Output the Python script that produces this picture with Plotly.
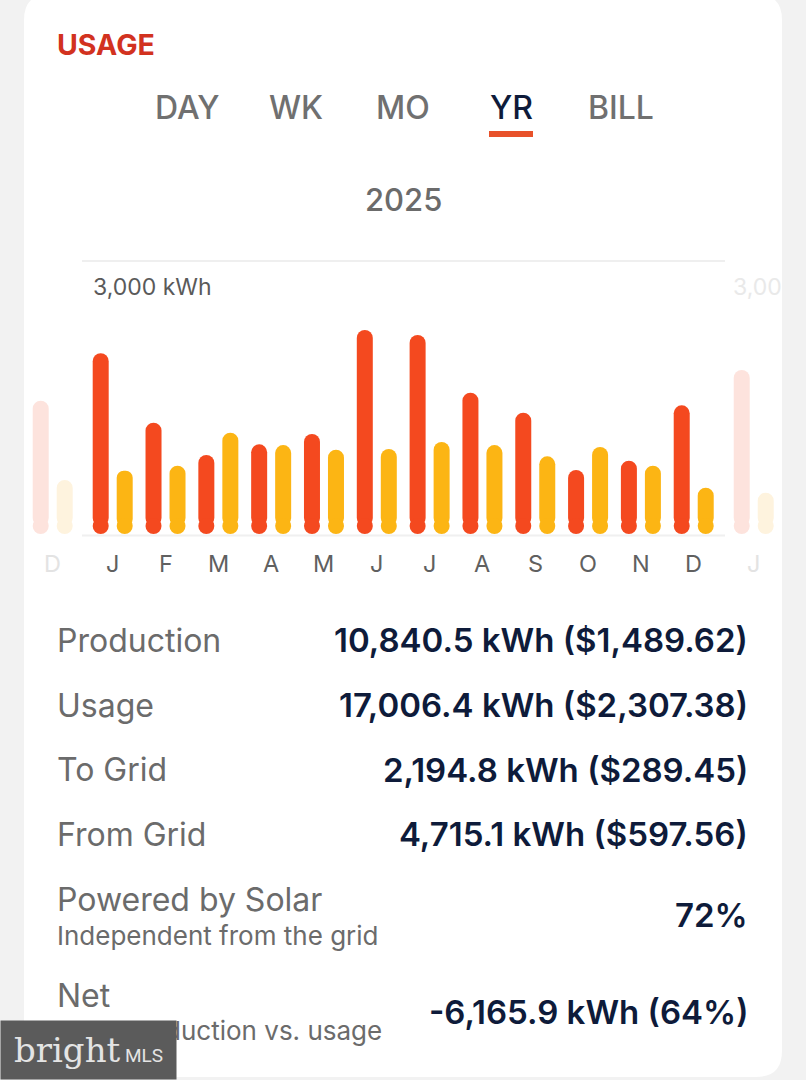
import numpy as np
import plotly.graph_objects as go

W, H = 806, 1080

# ---------------- data ----------------
months = ["J", "F", "M", "A", "M", "J", "J", "A", "S", "O", "N", "D"]
usage_2025 = [2064, 1271, 902, 1024, 1142, 2330, 2273, 1614, 1385, 731, 837, 1470]
production_2025 = [723, 780, 1157, 1016, 963, 971, 1051, 1016, 887, 994, 780, 529]
prev_label = ["D"]
usage_prev = [1522]
production_prev = [617]
next_label = ["J"]
usage_next = [1873]
production_next = [472]

tabs = ["DAY", "WK", "MO", "YR", "BILL"]
active_tab = "YR"
year_label = "2025"
title_label = "USAGE"
scale_label = "3,000 kWh"

summary_labels = ["Production", "Usage", "To Grid", "From Grid"]
summary_values = ["10,840.5 kWh ($1,489.62)", "17,006.4 kWh ($2,307.38)",
                  "2,194.8 kWh ($289.45)", "4,715.1 kWh ($597.56)"]
solar_label, solar_sub, solar_value = "Powered by Solar", "Independent from the grid", "72%"
net_label, net_sub, net_value = "Net", "Total production vs. usage", "-6,165.9 kWh (64%)"

# ---------------- style ----------------
RED = "#F4491F"
YEL = "#FCB514"
RED_F = "#FDE3DD"
YEL_F = "#FEF3DE"
NAVY = "#0E1B3A"
GRAY = "#6B6B6B"
BG = "#F2F2F2"
FONT = "Inter"

def PX(x):
    return x / W

def PY(y):
    return 1 - y / H

# axis geometry (pixels)
PPU = 52.82             # pixels per month
X0PX = 112.7            # pixel of January centre
XMIN = -X0PX / PPU
XMAX = (W - X0PX) / PPU
BASE_PX, TOP_PX = 534, 261
YMAX = 3118
R = 8 * YMAX / (BASE_PX - TOP_PX)   # 8px cap radius in data units
OFF = 12 / PPU
BW = 16 / PPU
PAGE_GAP = 0.136

idx = np.arange(len(months), dtype=float)
x_prev = np.array([-1 - PAGE_GAP])
x_next = np.array([len(months) + PAGE_GAP])

fig = go.Figure()

def add_bars(xc, vals, color):
    vals = np.asarray(vals, dtype=float)
    fig.add_trace(go.Bar(x=xc, y=vals - R, base=R, width=BW,
                         marker=dict(color=color, cornerradius=8, line=dict(width=0)),
                         hoverinfo="skip", showlegend=False))
    fig.add_trace(go.Scatter(x=xc, y=np.full(len(vals), R), mode="markers",
                             marker=dict(size=16, color=color, line=dict(width=0)),
                             hoverinfo="skip", showlegend=False, cliponaxis=False))

add_bars(x_prev - OFF, usage_prev, RED_F)
add_bars(x_prev + OFF, production_prev, YEL_F)
add_bars(idx - OFF, usage_2025, RED)
add_bars(idx + OFF, production_2025, YEL)
add_bars(x_next - OFF, usage_next, RED_F)
add_bars(x_next + OFF, production_next, YEL_F)

# ---------------- shapes ----------------
def rounded_rect(x0, y0, x1, y1, r):
    p = (f"M {PX(x0+r)},{PY(y0)} L {PX(x1-r)},{PY(y0)} Q {PX(x1)},{PY(y0)} {PX(x1)},{PY(y0+r)} "
         f"L {PX(x1)},{PY(y1-r)} Q {PX(x1)},{PY(y1)} {PX(x1-r)},{PY(y1)} "
         f"L {PX(x0+r)},{PY(y1)} Q {PX(x0)},{PY(y1)} {PX(x0)},{PY(y1-r)} "
         f"L {PX(x0)},{PY(y0+r)} Q {PX(x0)},{PY(y0)} {PX(x0+r)},{PY(y0)} Z")
    return p

shapes = [
    dict(type="path", path=rounded_rect(24, -6, 782, 1077, 26), xref="paper", yref="paper",
         fillcolor="white", line=dict(width=0), layer="below"),
    dict(type="line", xref="paper", yref="paper", x0=PX(82), x1=PX(725), y0=PY(261), y1=PY(261),
         line=dict(color="#EFEFEF", width=2), layer="below"),
    dict(type="line", xref="paper", yref="paper", x0=PX(82), x1=PX(725), y0=PY(535.5), y1=PY(535.5),
         line=dict(color="#F0F0F0", width=2), layer="below"),
    dict(type="rect", xref="paper", yref="paper", x0=PX(489), x1=PX(533), y0=PY(131), y1=PY(137),
         fillcolor="#E8512A", line=dict(width=0)),
]

# ---------------- annotations ----------------
ann = []

def txt(x, y, s, size, color, weight=400, xanchor="left", family=FONT, xref="paper"):
    ann.append(dict(x=x if xref != "paper" else PX(x), y=PY(y), xref=xref, yref="paper", text=s,
                    showarrow=False, xanchor=xanchor, yanchor="middle",
                    font=dict(family=family, size=size, color=color, weight=weight)))

txt(55, 44, title_label, 28.5, "#D2321F", 700)
tab_x = [187, 295.5, 403, 511, 620.5]
for t, xc in zip(tabs, tab_x):
    txt(xc, 107, t, 32, NAVY if t == active_tab else "#707070", 500, "center")
txt(403, 200, year_label, 31, "#6B6B6B", 500, "center")
txt(91, 287, scale_label, 23, "#5A5A5A", 400)
txt(731, 287, "3,00", 23, "#E9E9E9", 400)

for m, xc in zip(months, idx):
    txt(xc, 563, m, 23.5, "#606060", 400, "center", xref="x")
txt(x_prev[0], 563, prev_label[0], 23.5, "#E3E3E3", 400, "center", xref="x")
txt(x_next[0], 563, next_label[0], 23.5, "#E3E3E3", 400, "center", xref="x")

VX = 750
rows_y = [640, 705, 770, 834]
for lab, val, yy in zip(summary_labels, summary_values, rows_y):
    txt(55, yy, lab, 32, GRAY, 400)
    txt(VX, yy, val, 33, NAVY, 600, "right")

txt(55, 899, solar_label, 32, GRAY, 400)
txt(55, 935, solar_sub, 26, GRAY, 400)
txt(VX, 915, solar_value, 33, NAVY, 600, "right")

txt(55, 995, net_label, 32, GRAY, 400)
txt(55, 1030, net_sub, 26, GRAY, 400)
txt(VX, 1012, net_value, 33, NAVY, 600, "right")

# watermark box (drawn last so it covers the text beneath)
ann.append(dict(x=0, y=PY(1080), xref="paper", yref="paper", xanchor="left", yanchor="bottom",
                width=175, height=58, bgcolor="#5B5B5B", borderpad=0, showarrow=False, align="center",
                text="bright<span style='font-family:Roboto;font-size:19px'> MLS</span>",
                font=dict(family="DejaVu Serif", size=34, color="#E4E4E4")))

fig.update_layout(
    width=W, height=H,
    margin=dict(l=0, r=0, t=0, b=0),
    paper_bgcolor=BG, plot_bgcolor="rgba(0,0,0,0)",
    barmode="overlay",
    xaxis=dict(range=[XMIN, XMAX], domain=[0, 1], visible=False, fixedrange=True),
    yaxis=dict(range=[0, YMAX], domain=[PY(BASE_PX), PY(TOP_PX)], visible=False, fixedrange=True),
    shapes=shapes, annotations=ann, showlegend=False,
)

fig.write_html("out.html", config={"displayModeBar": False},
               post_script="document.body.style.margin='0';")
